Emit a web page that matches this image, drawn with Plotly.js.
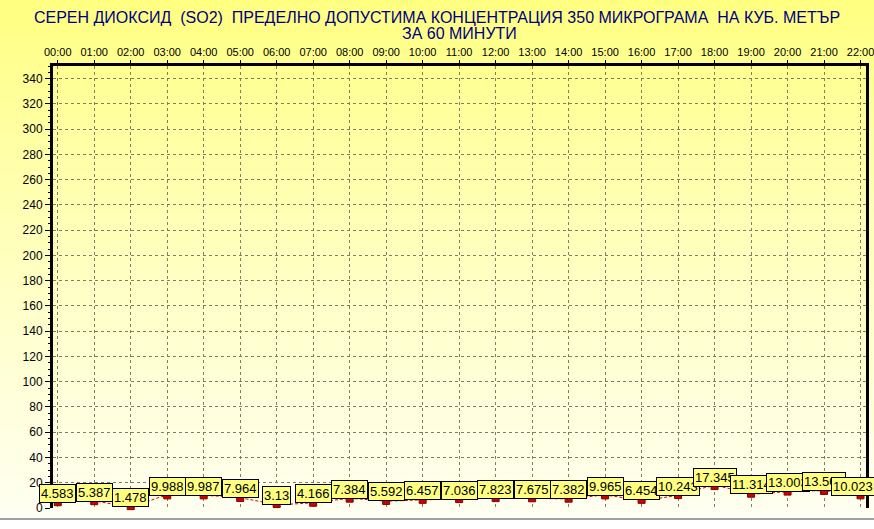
<!DOCTYPE html>
<html>
<head>
<meta charset="utf-8">
<script src="https://cdn.plot.ly/plotly-3.0.1.min.js"></script>
<style>
html,body{margin:0;padding:0;}
#wrap{position:relative;width:874px;height:529px;overflow:hidden;
background:linear-gradient(to bottom,#ffff80 0px,#ffffa0 120px,#ffffc8 300px,#fffff0 510px,#fffff4 518px);}
#line{position:absolute;left:0;top:518px;width:874px;height:2px;background:#a0a0a0;}
#low{position:absolute;left:0;top:520px;width:874px;height:9px;background:#ffffff;}
#chart{position:absolute;left:0;top:0;width:874px;height:529px;}
</style>
</head>
<body>
<div id="wrap"><div id="line"></div><div id="low"></div><div id="chart"></div></div>
<script>
const hours = ['00:00','01:00','02:00','03:00','04:00','05:00','06:00','07:00','08:00','09:00','10:00','11:00','12:00','13:00','14:00','15:00','16:00','17:00','18:00','19:00','20:00','21:00','22:00'];
const so2 = [4.583,5.387,1.478,9.988,9.987,7.964,3.13,4.166,7.384,5.592,6.457,7.036,7.823,7.675,7.382,9.965,6.454,10.243,17.345,11.314,13.003,13.508,10.023];
const yTicks = [0,20,40,60,80,100,120,140,160,180,200,220,240,260,280,300,320,340];
const titleLine1 = 'СЕРЕН ДИОКСИД  (SO2)  ПРЕДЕЛНО ДОПУСТИМА КОНЦЕНТРАЦИЯ 350 МИКРОГРАМА  НА КУБ. МЕТЪР';
const titleLine2 = 'ЗА 60 МИНУТИ';

const titleFont = {family:'Arial, Liberation Sans, sans-serif', size:16, color:'#000080'};

const traces = [
  {x: hours, y: so2, type:'scatter', mode:'lines', line:{color:'#e00000', width:1, dash:'3px,2px', shape:'spline', smoothing:0.8}, hoverinfo:'skip', cliponaxis:false},
  {x: hours, y: so2, type:'scatter', mode:'markers', marker:{symbol:'square', size:7, color:'#d00000', line:{color:'#800000', width:1}}, cliponaxis:false}
];

const annotations = so2.map((v,i)=>({
  x: hours[i], y: v, xref:'x', yref:'y', text: String(v), showarrow:false,
  yshift: 9, xshift: (i === so2.length-1 ? -8 : 0),
  font:{family:'Arial, Liberation Sans, sans-serif', size:13, color:'#000000'},
  bgcolor:'#ffff80', bordercolor:'#000000', borderwidth:1, borderpad:1
}));
annotations.push({text: titleLine2, xref:'paper', yref:'paper', x:0.5, y:1, xanchor:'center', yanchor:'middle',
  yshift:33, showarrow:false, font:titleFont});

const layout = {
  width:874, height:529,
  paper_bgcolor:'rgba(0,0,0,0)', plot_bgcolor:'rgba(0,0,0,0)',
  margin:{l:53, r:8, t:66, b:21},
  showlegend:false,
  title:{text:titleLine1, x:0.5, xanchor:'center', y:0.968, yanchor:'middle', font:titleFont},
  xaxis:{type:'category', side:'top', range:[-0.13, 22.15], tickvals:hours, ticktext:hours,
    showgrid:true, gridcolor:'#808060', griddash:'3px,3px', gridwidth:1,
    showline:true, linecolor:'#000000', linewidth:3, mirror:false,
    ticks:'outside', ticklen:3, tickcolor:'#000000',
    tickfont:{family:'Arial, Liberation Sans, sans-serif', size:11, color:'#000000'},
    zeroline:false, fixedrange:true},
  yaxis:{range:[0,350], tickvals:yTicks, ticktext:yTicks.map(String),
    showgrid:true, gridcolor:'#808060', griddash:'3px,3px', gridwidth:1,
    showline:true, linecolor:'#000000', linewidth:3, mirror:true,
    ticks:'outside', ticklen:5, tickcolor:'#000000',
    minor:{dtick:5, ticks:'outside', ticklen:2, tickcolor:'#000000', showgrid:false},
    tickfont:{family:'Arial, Liberation Sans, sans-serif', size:12, color:'#000000'},
    zeroline:false, fixedrange:true},
  annotations: annotations
};

Plotly.newPlot('chart', traces, layout, {displayModeBar:false, staticPlot:true});
</script>
</body>
</html>
